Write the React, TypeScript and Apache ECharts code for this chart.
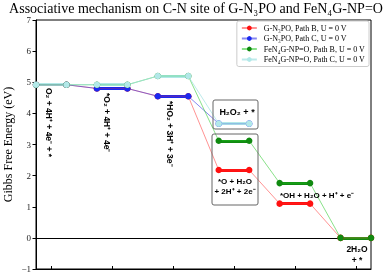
import React, { useEffect, useRef } from "react";
import * as echarts from "echarts";

const steps = [0, 1, 2, 3, 4, 5];
const seriesNames = [
  "G-N₃PO, Path B, U = 0 V",
  "G-N₃PO, Path C, U = 0 V",
  "FeN₄G-NP=O, Path B, U = 0 V",
  "FeN₄G-NP=O, Path C, U = 0 V",
];
const gN3poPathB = [4.92, 4.8, 4.55, 2.18, 1.1, 0];
const gN3poPathC = [4.92, 4.8, 4.55, 3.67];
const feN4PathB = [4.92, 4.92, 5.2, 3.12, 1.76, 0];
const feN4PathC = [4.92, 4.92, 5.2, 3.67];
const yTicks = [-1, 0, 1, 2, 3, 4, 5, 6, 7];

const HALF = 0.25;
const colors = [
  { mark: "#ff1010", thin: "rgba(255,40,40,0.5)" },
  { mark: "#1a2af0", thin: "rgba(40,40,230,0.55)" },
  { mark: "#108a10", thin: "rgba(40,200,40,0.55)" },
  { mark: "#b2e8e8", thin: "rgba(160,225,225,0.7)" },
];

function points(vals: number[]) {
  const out: number[][] = [];
  vals.forEach((v, i) => {
    out.push([steps[i] - HALF, v]);
    out.push([steps[i] + HALF, v]);
  });
  return out;
}
function plateaus(vals: number[]) {
  return vals.map((v, i) => ({ coords: [[steps[i] - HALF, v], [steps[i] + HALF, v]] }));
}

export default function App() {
  const ref = useRef<HTMLDivElement>(null);
  useEffect(() => {
    const chart = echarts.init(ref.current!, null, { renderer: "svg" });
    const all = [gN3poPathB, gN3poPathC, feN4PathB, feN4PathC];
    const series: any[] = [];
    all.forEach((vals, k) => {
      series.push({
        type: "line",
        name: seriesNames[k],
        data: points(vals),
        z: 3,
        symbol: "circle",
        symbolSize: 6.5,
        itemStyle: { color: colors[k].mark },
        lineStyle: { color: colors[k].thin, width: 1 },
        markLine:
          k === 0
            ? {
                silent: true,
                symbol: "none",
                label: { show: false },
                lineStyle: { color: "#000", width: 1, type: "solid" },
                data: [{ yAxis: 0 }],
                z: 1,
              }
            : undefined,
      });
      series.push({
        type: "lines",
        name: seriesNames[k],
        coordinateSystem: "cartesian2d",
        polyline: false,
        z: 2,
        data: plateaus(vals),
        lineStyle: { color: colors[k].mark, width: 3, opacity: 1 },
      });
    });
    const boldText = (text: string, x: number, y: number, size = 8, rot = 0, align = "center") => ({
      type: "text",
      x,
      y,
      rotation: rot,
      style: {
        text,
        fill: "#000",
        font: `bold ${size}px "Liberation Sans", Arial, sans-serif`,
        textAlign: align,
        textVerticalAlign: "middle",
      },
      z: 10,
    });
    chart.setOption({
      animation: false,
      title: {
        text: "Associative mechanism on C-N site of G-N₃PO and FeN₄G-NP=O",
        left: "center",
        top: 1,
        padding: 0,
        textStyle: { fontFamily: "Liberation Serif", fontWeight: "normal", fontSize: 14, lineHeight: 14, color: "#000" },
      },
      grid: {
        left: 36,
        right: 21,
        top: 20,
        bottom: 5,
        containLabel: false,
        outerBoundsMode: "none",
        show: true,
        borderColor: "#000",
        borderWidth: 1,
      },
      legend: {
        data: seriesNames,
        orient: "vertical",
        right: 23,
        top: 21,
        padding: [3, 4],
        itemGap: 2.5,
        itemWidth: 15,
        itemHeight: 6,
        borderColor: "#ccc",
        borderWidth: 1,
        borderRadius: 2,
        backgroundColor: "rgba(255,255,255,0.8)",
        textStyle: { fontFamily: "Liberation Serif", fontSize: 8, color: "#000", padding: [0, 0, 0, 2] },
      },
      xAxis: {
        type: "value",
        min: -HALF,
        max: 5 + HALF,
        axisLine: { onZero: false, lineStyle: { color: "#000" } },
        axisTick: { show: true, inside: true, length: 3, customValues: steps, lineStyle: { color: "#000" } },
        axisLabel: { show: false },
        splitLine: { show: false },
      },
      yAxis: {
        type: "value",
        min: -1,
        max: 7,
        interval: 1,
        name: "Gibbs Free Energy (eV)",
        nameLocation: "middle",
        nameGap: 22,
        nameMoveOverlap: false,
        nameTextStyle: { fontFamily: "Liberation Serif", fontSize: 12, color: "#000" },
        axisLine: { onZero: false, lineStyle: { color: "#000" } },
        axisTick: { show: true, length: 3.5, lineStyle: { color: "#000" }, customValues: yTicks },
        axisLabel: {
          fontFamily: "Liberation Serif",
          fontSize: 9,
          color: "#222",
          margin: 5,
          customValues: yTicks,
          formatter: (v: number) => (v < 0 ? "−" + Math.abs(v) : String(v)),
        },
        splitLine: { show: false },
      },
      graphic: [
        { type: "rect", shape: { x: 213, y: 100, width: 45, height: 29, r: 2 }, style: { fill: "none", stroke: "#666", lineWidth: 1 }, z: 9 },
        { type: "rect", shape: { x: 212, y: 134, width: 46, height: 71, r: 2 }, style: { fill: "none", stroke: "#666", lineWidth: 1 }, z: 9 },
        boldText("O₂ + 4H⁺ + 4e⁻ + *", 49, 88, 8.5, -Math.PI / 2, "left"),
        boldText("*O₂ + 4H⁺ + 4e⁻", 107, 93, 8.5, -Math.PI / 2, "left"),
        boldText("*HO₂ + 3H⁺ + 3e⁻", 170, 101, 8.5, -Math.PI / 2, "left"),
        boldText("H₂O₂ + *", 237, 112, 9),
        boldText("*O + H₂O", 235, 181, 8),
        boldText("+ 2H⁺ + 2e⁻", 235, 191, 8),
        boldText("*OH + H₂O + H⁺ + e⁻", 317, 195, 8),
        boldText("2H₂O", 357, 249, 8.5),
        boldText("+ *", 357, 260, 8.5),
      ],
      series,
    });
    return () => chart.dispose();
  }, []);
  return <div ref={ref} style={{ width: 392, height: 274, position: "fixed", left: 0, top: 0 }} />;
}
